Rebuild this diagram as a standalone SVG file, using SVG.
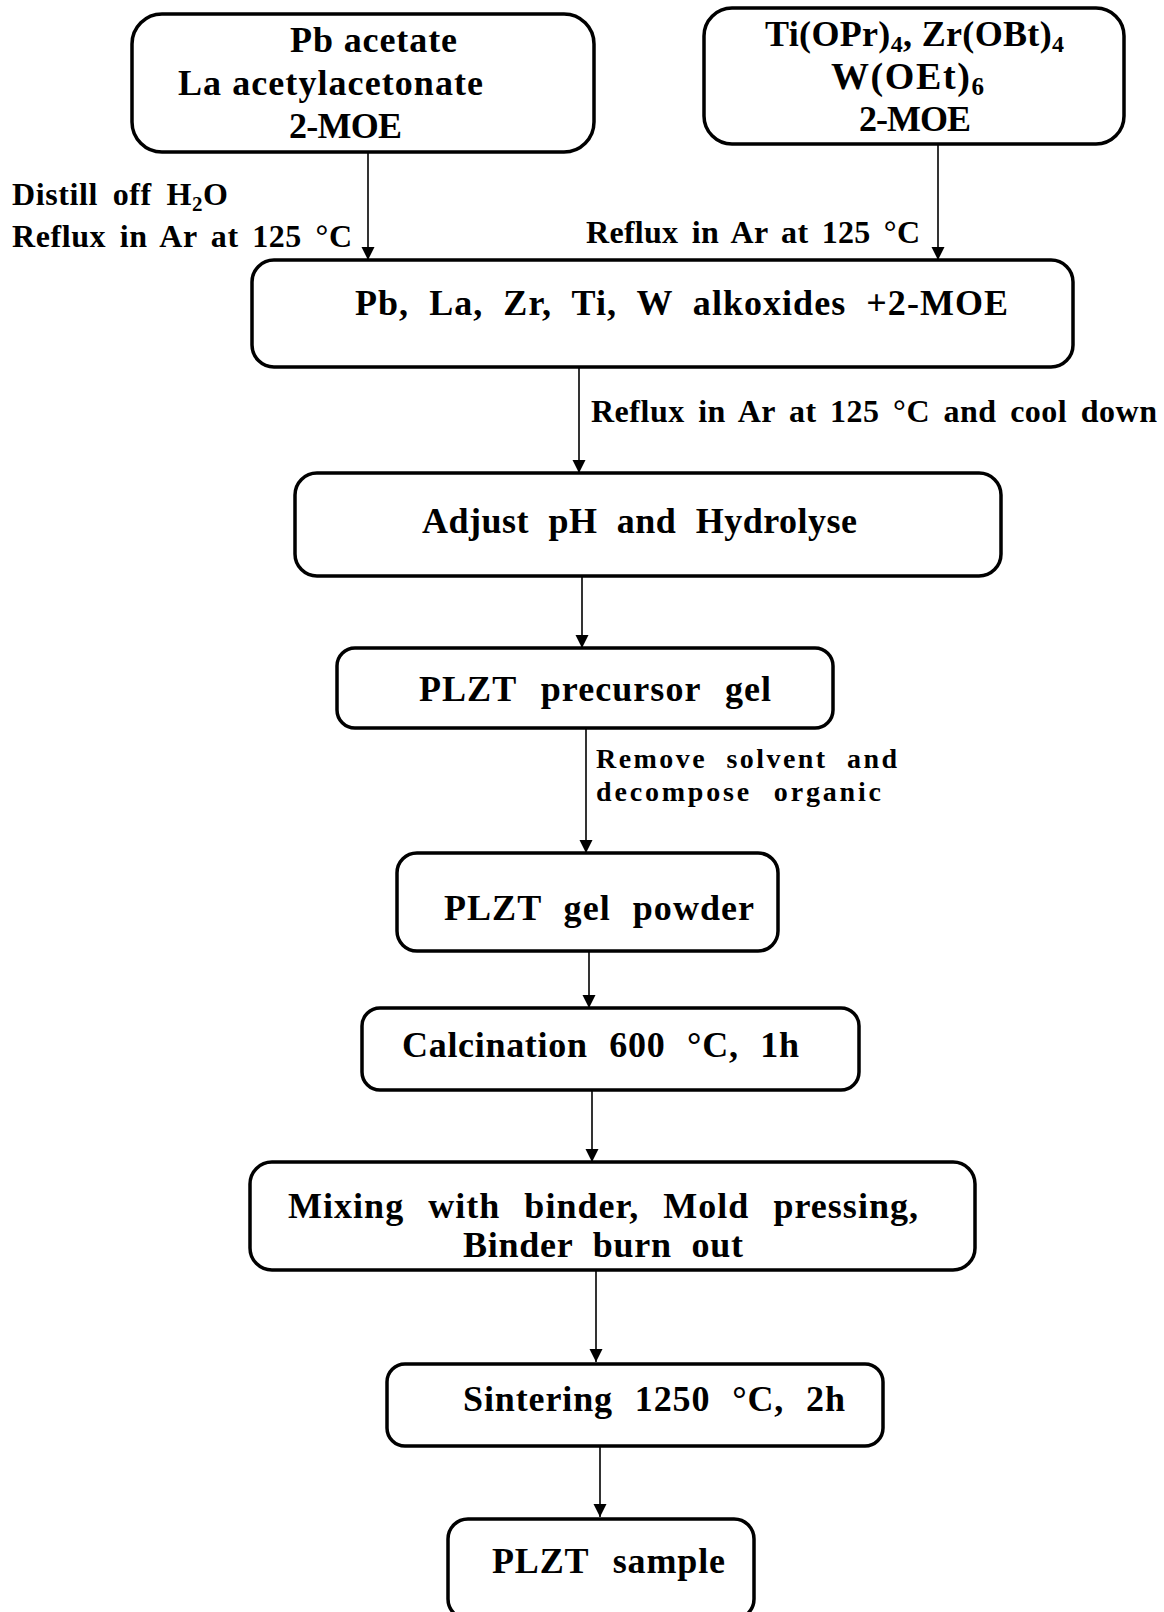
<svg xmlns="http://www.w3.org/2000/svg" width="1164" height="1612" viewBox="0 0 1164 1612">
<style>
.box{fill:#fff;stroke:#000;stroke-width:3.5}
.t{font-family:"Liberation Serif","Times New Roman",serif;font-weight:bold;font-size:36px;fill:#000}
.b1{font-size:36px}
.lbl{font-family:"Liberation Serif","Times New Roman",serif;font-weight:bold;font-size:32px;fill:#000}
.sm{font-size:28px}
.c{stroke:#000;stroke-width:1.6;fill:none}
</style>
<defs>
<marker id="arr" markerUnits="userSpaceOnUse" markerWidth="13" markerHeight="14" refX="13" refY="6.5" orient="auto" viewBox="0 0 13 13">
<path d="M0,0 L13,6.5 L0,13 Z" fill="#000"/>
</marker>
</defs>
<rect width="1164" height="1612" fill="#fff"/>

<g id="connectors">
<line class="c" x1="368" y1="152" x2="368" y2="260" marker-end="url(#arr)"/>
<line class="c" x1="938" y1="144" x2="938" y2="260" marker-end="url(#arr)"/>
<line class="c" x1="579" y1="367" x2="579" y2="473" marker-end="url(#arr)"/>
<line class="c" x1="582" y1="576" x2="582" y2="648" marker-end="url(#arr)"/>
<line class="c" x1="586" y1="728" x2="586" y2="853" marker-end="url(#arr)"/>
<line class="c" x1="589" y1="951" x2="589" y2="1008" marker-end="url(#arr)"/>
<line class="c" x1="592" y1="1090" x2="592" y2="1162" marker-end="url(#arr)"/>
<line class="c" x1="596" y1="1270" x2="596" y2="1362" marker-end="url(#arr)"/>
<line class="c" x1="600" y1="1445" x2="600" y2="1517" marker-end="url(#arr)"/>
</g>

<g id="labels">
<text class="lbl" x="12" y="205" textLength="216" lengthAdjust="spacing" style="word-spacing:6px">Distill off H<tspan font-size="21" dy="6">2</tspan><tspan dy="-6">O</tspan></text>
<text class="lbl" x="12" y="247" textLength="340" lengthAdjust="spacing" style="word-spacing:5px">Reflux in Ar at 125 °C</text>
<text class="lbl" x="586" y="243" textLength="334" lengthAdjust="spacing" style="word-spacing:5px">Reflux in Ar at 125 °C</text>
<text class="lbl" x="591" y="422" textLength="566" lengthAdjust="spacing" style="word-spacing:5px">Reflux in Ar at 125 °C and cool down</text>
<text class="lbl sm" x="596" y="768" textLength="301" lengthAdjust="spacing" style="word-spacing:10px">Remove solvent and</text>
<text class="lbl sm" x="596" y="801" textLength="285" lengthAdjust="spacing" style="word-spacing:12px">decompose organic</text>
</g>

<g id="n1">
<rect class="box" x="132" y="14" width="462" height="138" rx="30"/>
<text class="t b1" x="290" y="52" textLength="167" lengthAdjust="spacing">Pb acetate</text>
<text class="t b1" x="178" y="95" textLength="305" lengthAdjust="spacing">La acetylacetonate</text>
<text class="t b1" x="289" y="138" textLength="113" lengthAdjust="spacing">2-MOE</text>
</g>

<g id="n2">
<rect class="box" x="704" y="8" width="420" height="136" rx="28"/>
<text class="t b1" x="765" y="46" textLength="299" lengthAdjust="spacing">Ti(OPr)<tspan font-size="24" dy="6">4</tspan><tspan dy="-6">, Zr(OBt)</tspan><tspan font-size="24" dy="6">4</tspan></text>
<text class="t" x="831" y="89" style="font-size:38px" textLength="153" lengthAdjust="spacing">W(OEt)<tspan font-size="25" dy="6">6</tspan></text>
<text class="t b1" x="859" y="131" textLength="112" lengthAdjust="spacing">2-MOE</text>
</g>

<g id="n3">
<rect class="box" x="252" y="260" width="821" height="107" rx="22"/>
<text class="t" x="355" y="315" textLength="653" lengthAdjust="spacing" style="word-spacing:10px">Pb, La, Zr, Ti, W alkoxides +2-MOE</text>
</g>

<g id="n4">
<rect class="box" x="295" y="473" width="706" height="103" rx="22"/>
<text class="t" x="422" y="533" textLength="435" lengthAdjust="spacing" style="word-spacing:10px">Adjust pH and Hydrolyse</text>
</g>

<g id="n5">
<rect class="box" x="337" y="648" width="496" height="80" rx="18"/>
<text class="t" x="419" y="701" textLength="352" lengthAdjust="spacing" style="word-spacing:14px">PLZT precursor gel</text>
</g>

<g id="n6">
<rect class="box" x="397" y="853" width="381" height="98" rx="20"/>
<text class="t" x="444" y="920" textLength="310" lengthAdjust="spacing" style="word-spacing:12px">PLZT gel powder</text>
</g>

<g id="n7">
<rect class="box" x="362" y="1008" width="497" height="82" rx="18"/>
<text class="t" x="402" y="1057" textLength="397" lengthAdjust="spacing" style="word-spacing:12px">Calcination 600 °C, 1h</text>
</g>

<g id="n8">
<rect class="box" x="250" y="1162" width="725" height="108" rx="22"/>
<text class="t" x="288" y="1218" textLength="630" lengthAdjust="spacing" style="word-spacing:14px">Mixing with binder, Mold pressing,</text>
<text class="t" x="463" y="1257" textLength="280" lengthAdjust="spacing" style="word-spacing:10px">Binder burn out</text>
</g>

<g id="n9">
<rect class="box" x="387" y="1364" width="496" height="82" rx="18"/>
<text class="t" x="463" y="1411" textLength="382" lengthAdjust="spacing" style="word-spacing:12px">Sintering 1250 °C, 2h</text>
</g>

<g id="n10">
<rect class="box" x="448" y="1519" width="306" height="100" rx="20"/>
<text class="t" x="492" y="1573" textLength="233" lengthAdjust="spacing" style="word-spacing:14px">PLZT sample</text>
</g>
</svg>
